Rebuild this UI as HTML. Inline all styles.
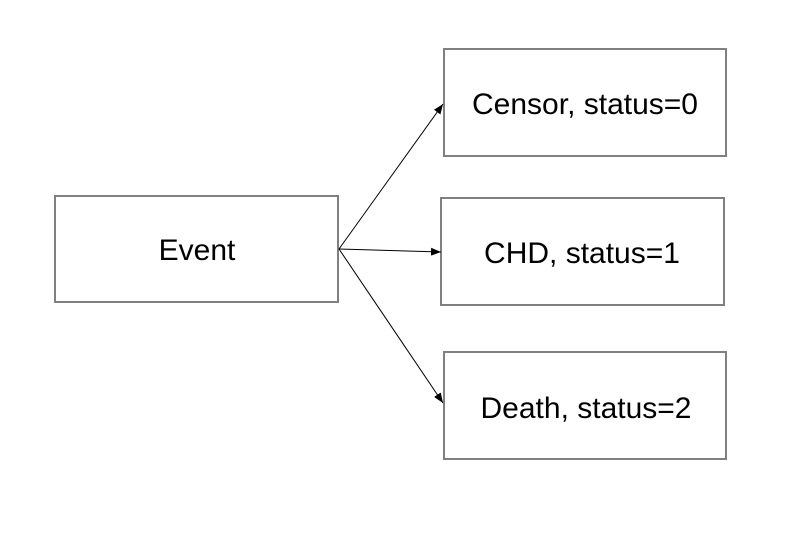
<!DOCTYPE html>
<html><head><style>
body{margin:0;background:#fff;width:805px;height:542px;overflow:hidden;font-family:"Liberation Sans",sans-serif}
</style></head><body>
<svg width="805" height="542" xmlns="http://www.w3.org/2000/svg">
<defs><marker id="a" markerWidth="10" markerHeight="8" refX="10" refY="4" orient="auto" markerUnits="userSpaceOnUse"><path d="M0,0 L10,4 L0,8 z" fill="#000"/></marker></defs>
<g fill="none" stroke="#808080" stroke-width="2">
<rect x="55" y="196" width="283" height="106"/>
<rect x="444" y="49" width="282" height="107"/>
<rect x="441" y="198" width="283" height="107"/>
<rect x="444" y="352" width="282" height="107"/>
</g>
<g stroke="#000" stroke-width="1" marker-end="url(#a)">
<line x1="339" y1="249" x2="443" y2="104"/>
<line x1="339" y1="249" x2="441" y2="252"/>
<line x1="339" y1="249" x2="443" y2="403"/>
</g>
<g font-family="Liberation Sans, sans-serif" font-size="30" fill="#000" text-anchor="middle">
<text x="197" y="260">Event</text>
<text x="585" y="114">Censor, status=0</text>
<text x="582" y="263">CHD, status=1</text>
<text x="586" y="418">Death, status=2</text>
</g>
</svg>
</body></html>
